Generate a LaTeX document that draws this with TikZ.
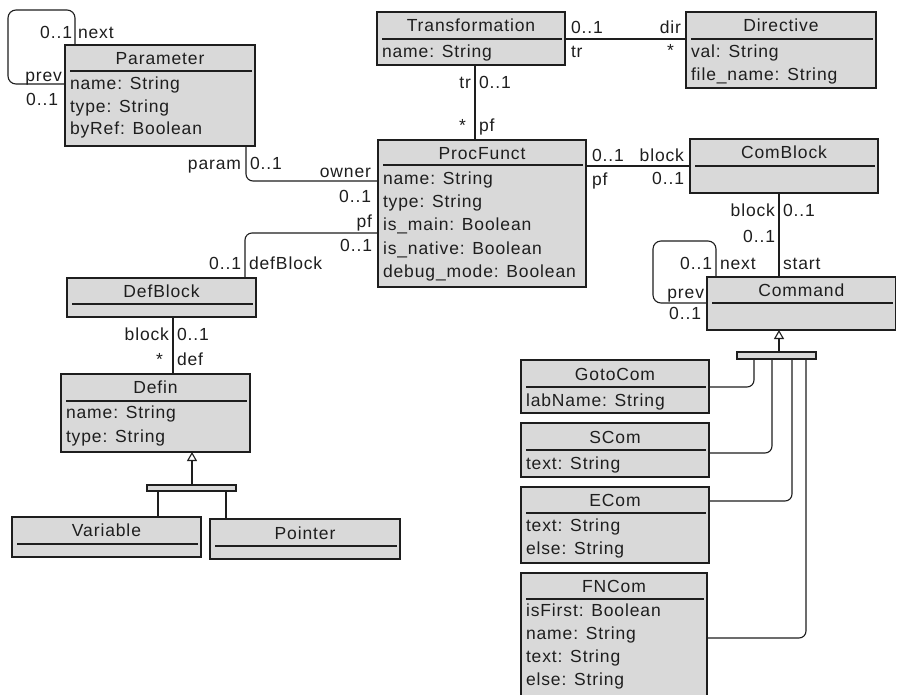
\documentclass[tikz,border=0pt]{standalone}
\usepackage{fontspec}
\setmainfont{Liberation Sans}[LetterSpace=5]
\usetikzlibrary{arrows.meta,calc}
\definecolor{boxfill}{RGB}{217,217,217}
\definecolor{ink}{RGB}{30,30,30}
\tikzset{
 clsbox/.style={draw=ink, fill=boxfill, line width=1.5pt, inner sep=0pt, outer sep=0pt},
 sepline/.style={draw=ink, line width=1.3pt},
 txt/.style={font=\fontsize{17.5}{20}\selectfont, inner sep=0pt, outer sep=0pt, text height=12.5pt, text depth=0pt, text=ink},
 conn/.style={draw=ink, line width=1.1pt},
 genbar/.style={draw=ink, fill=boxfill, line width=1.2pt, inner sep=0pt, outer sep=0pt},
 gentip/.style={-{Triangle[open, length=9pt, width=10pt, fill=white]}},
}
\newcommand\umlbox[8]{%
 \node[clsbox, minimum width={#4-#2}, minimum height={#5-#3}, anchor=north west] (#1) at (#2,#3) {};
 \draw[sepline] ($(#1.north west)+(5,#6-#3)$) -- ($(#1.north east)+(-3,#6-#3)$);
 \node[txt] (#1-title) at ($(#1.north)+(0,#7-#3)$) {#8};
}
\newcommand\umlattrs[3]{%
 \foreach \yy/\txt [count=\k] in {#3} {\node[txt, anchor=west] (#1-a\k) at (#2+5,\yy) {\txt};}
}
\begin{document}
\begin{tikzpicture}[x=1pt,y=-1pt]
\fill[white] (0,0) rectangle (897,694);
\useasboundingbox (0,0) rectangle (897,694);

% classes
\umlbox{param}{65}{45}{255}{146}{71}{58}{Parameter}
\umlattrs{param}{65}{83/name: String,106/type: String,128/byRef: Boolean}
\umlbox{trans}{377}{12}{565}{65}{39}{25}{Transformation}
\umlattrs{trans}{377}{51/name: String}
\umlbox{dir}{686}{12}{876}{88}{39}{25}{Directive}
\umlattrs{dir}{686}{51/val: String,74/file\_name: String}
\umlbox{proc}{378}{140}{586}{287}{165}{153}{ProcFunct}
\umlattrs{proc}{378}{178/name: String,201/type: String,224/is\_main: Boolean,248/is\_native: Boolean,271/debug\_mode: Boolean}
\umlbox{comb}{690}{139}{878}{193}{166}{152}{ComBlock}
\umlbox{cmd}{707}{277}{895.5}{330}{303}{290}{Command}
\umlbox{defb}{67}{278}{256}{317}{304}{291}{DefBlock}
\umlbox{defin}{61}{374}{250}{452}{401}{387}{Defin}
\umlattrs{defin}{61}{412/name: String,436/type: String}
\umlbox{var}{12}{517}{201}{557}{544}{530}{Variable}
\umlbox{ptr}{210}{519}{400}{559}{546}{533}{Pointer}
\umlbox{goto}{521}{360}{709}{413}{387}{374}{GotoCom}
\umlattrs{goto}{521}{400/labName: String}
\umlbox{scom}{521}{423}{709}{477}{450}{437}{SCom}
\umlattrs{scom}{521}{463/text: String}
\umlbox{ecom}{521}{487}{709}{563}{513}{500}{ECom}
\umlattrs{ecom}{521}{525/text: String,548/else: String}
\umlbox{fncom}{521}{573}{707}{705}{599}{586}{FNCom}
\umlattrs{fncom}{521}{610/isFirst: Boolean,633/name: String,656/text: String,679/else: String}

% generalization bars
\node[genbar, minimum width=89, minimum height=6, anchor=north west] (dbar) at (147,485) {};
\node[genbar, minimum width=79, minimum height=7, anchor=north west] (cbar) at (737,352) {};

% helper corners of self loops
\coordinate (ploop) at (8,10);
\coordinate (cloop) at (653,241);

% connectors
\draw[conn, rounded corners=8] ($(param.north west)+(10,0)$) |- (ploop) |- ($(param.north west)+(0,39)$);
\draw[conn, rounded corners=7] ($(param.south west)+(181,0)$) |- ($(proc.north west)+(0,41)$);
\draw[conn, rounded corners=7] ($(proc.north west)+(0,93)$) -| ($(defb.north west)+(178,0)$);
\draw[conn] ($(trans.south west)+(98,0)$) -- ($(proc.north west)+(97,0)$);
\draw[conn] ($(trans.north east)+(0,27)$) -- ($(dir.north west)+(0,27)$);
\draw[conn] ($(proc.north east)+(0,26)$) -- ($(comb.north west)+(0,27)$);
\draw[conn] ($(comb.south west)+(89,0)$) -- ($(cmd.north west)+(72,0)$);
\draw[conn, rounded corners=8] ($(cmd.north west)+(9,0)$) |- (cloop) |- ($(cmd.north west)+(0,26)$);
\draw[conn] ($(defb.south west)+(106,0)$) -- ($(defin.north west)+(112,0)$);

% generalization: Defin
\draw[conn, gentip] ($(dbar.north west)+(45,0)$) -- ($(defin.south west)+(131,0)$);
\draw[conn] ($(dbar.south west)+(11,0)$) -- ($(var.north west)+(146,0)$);
\draw[conn] ($(dbar.south west)+(79,0)$) -- ($(ptr.north west)+(16,0)$);

% generalization: Command
\draw[conn, gentip] ($(cbar.north west)+(42,0)$) -- ($(cmd.south west)+(72,0)$);
\draw[conn, rounded corners=7] ($(cbar.south west)+(17,0)$) |- ($(goto.north east)+(0,27)$);
\draw[conn, rounded corners=7] ($(cbar.south west)+(35,0)$) |- ($(scom.north east)+(0,30)$);
\draw[conn, rounded corners=7] ($(cbar.south west)+(55,0)$) |- ($(ecom.north east)+(0,14)$);
\draw[conn, rounded corners=7] ($(cbar.south west)+(69,0)$) |- ($(fncom.north east)+(0,65)$);

% role / multiplicity labels
\node[txt, anchor=east] (l1) at (72,32) {0..1};
\node[txt, anchor=west] (l2) at (78,32) {next};
\node[txt, anchor=east] (l3) at (62,75) {prev};
\node[txt, anchor=east] (l4) at (58,99) {0..1};

\node[txt, anchor=east] (l5) at (241,163) {param};
\node[txt, anchor=west] (l6) at (250,163) {0..1};
\node[txt, anchor=east] (l7) at (371,171) {owner};
\node[txt, anchor=east] (l8) at (371,196) {0..1};

\node[txt, anchor=east] (l9) at (372,221) {pf};
\node[txt, anchor=east] (l10) at (372,245) {0..1};
\node[txt, anchor=east] (l11) at (241,263) {0..1};
\node[txt, anchor=west] (l12) at (249,263) {defBlock};

\node[txt, anchor=east] (l13) at (471,82) {tr};
\node[txt, anchor=west] (l14) at (479,82) {0..1};
\node[txt, anchor=east] (l15) at (466,125) {*};
\node[txt, anchor=west] (l16) at (479,125) {pf};

\node[txt, anchor=west] (l17) at (571,27) {0..1};
\node[txt, anchor=west] (l18) at (571,51) {tr};
\node[txt, anchor=east] (l19) at (681,27) {dir};
\node[txt, anchor=east] (l20) at (674,50) {*};

\node[txt, anchor=west] (l21) at (592,155) {0..1};
\node[txt, anchor=east] (l22) at (684,155) {block};
\node[txt, anchor=west] (l23) at (592,179) {pf};
\node[txt, anchor=east] (l24) at (684,178) {0..1};

\node[txt, anchor=east] (l25) at (775,210) {block};
\node[txt, anchor=west] (l26) at (783,210) {0..1};
\node[txt, anchor=east] (l27) at (775,236) {0..1};
\node[txt, anchor=west] (l28) at (783,263) {start};

\node[txt, anchor=east] (l29) at (712,263) {0..1};
\node[txt, anchor=west] (l30) at (720,263) {next};
\node[txt, anchor=east] (l31) at (704,292) {prev};
\node[txt, anchor=east] (l32) at (701,313) {0..1};

\node[txt, anchor=east] (l33) at (169,334) {block};
\node[txt, anchor=west] (l34) at (177,334) {0..1};
\node[txt, anchor=east] (l35) at (163,359) {*};
\node[txt, anchor=west] (l36) at (177,359) {def};
\end{tikzpicture}
\end{document}
